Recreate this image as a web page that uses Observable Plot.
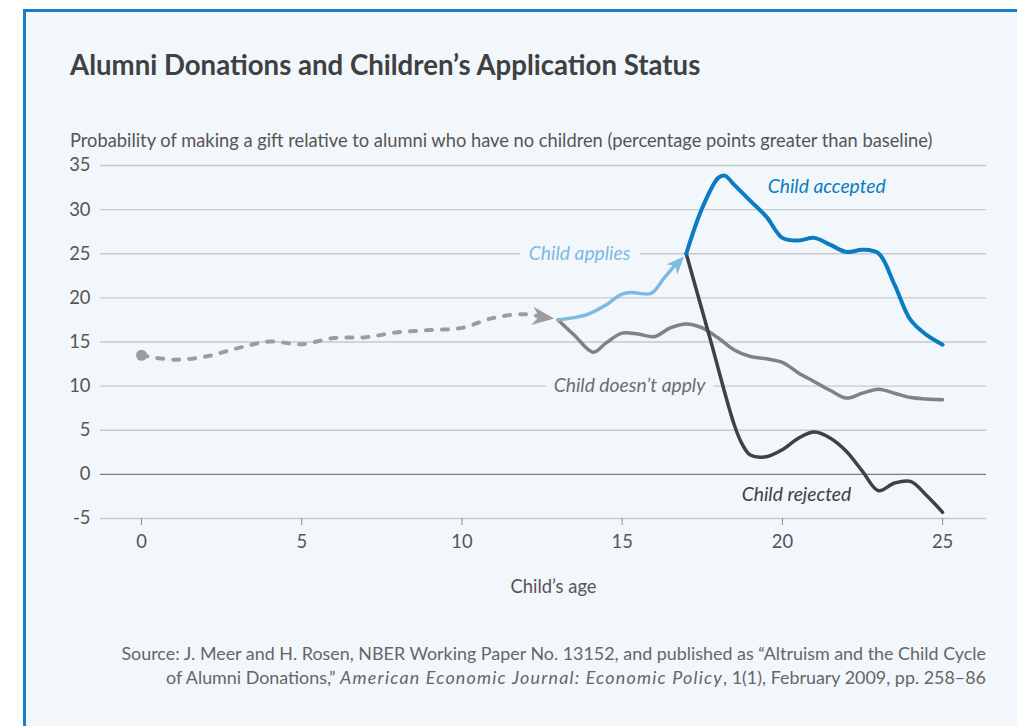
<!DOCTYPE html>
<html>
<head>
<meta charset="utf-8">
<script src="https://cdn.jsdelivr.net/npm/d3@7"></script>
<script src="https://cdn.jsdelivr.net/npm/@observablehq/plot@0.6"></script>
<style>
  html, body { margin: 0; padding: 0; background: #ffffff; width: 1017px; height: 726px; overflow: hidden; font-family: Lato, sans-serif; }
  #card { position: absolute; left: 23px; top: 9px; width: 1100px; height: 800px; background: #f2f7fc; border-left: 3px solid #1b7dc6; border-top: 3px solid #1b7dc6; }
  #title { position: absolute; left: 70px; top: 48px; font-size: 27.6px; line-height: 34px; font-weight: 700; color: #404041; white-space: nowrap; }
  #ylabel { position: absolute; left: 70px; top: 128px; font-size: 18.3px; line-height: 24px; color: #555; white-space: nowrap; }
  #chart { position: absolute; left: 0; top: 150px; }
  #source { position: absolute; right: 31px; top: 641px; font-size: 17.9px; line-height: 24px; color: #666; text-align: right; white-space: nowrap; }
  #source i { letter-spacing: 1.2px; }
</style>
</head>
<body>
<div id="card"></div>
<div id="title">Alumni Donations and Children’s Application Status</div>
<div id="ylabel">Probability of making a gift relative to alumni who have no children (percentage points greater than baseline)</div>
<div id="chart"></div>
<div id="source">Source: J. Meer and H. Rosen, NBER Working Paper No. 13152, and published as “Altruism and the Child Cycle<br>of Alumni Donations,” <i>American Economic Journal: Economic Policy</i>, 1(1), February 2009, pp. 258–86</div>
<script>
// ---- data ----
const xTicks = [0, 5, 10, 15, 20, 25];
const yTicks = [-5, 0, 5, 10, 15, 20, 25, 30, 35];

// before application (dashed)
const baseAge = [0, 1, 2, 3, 4, 5, 6, 7, 8, 9, 10, 11, 12, 12.45];
const baseVal = [13.5, 13.0, 13.35, 14.3, 15.05, 14.75, 15.45, 15.55, 16.1, 16.35, 16.6, 17.75, 18.15, 17.85];
const baseTip = {age: 12.88, val: 17.65};

// child applies
const applyAge = [13, 13.9, 14.5, 14.95, 15.3, 15.9, 16.3, 16.65];
const applyVal = [17.5, 18.1, 19.2, 20.35, 20.6, 20.5, 22.2, 23.7];
const applyTip = {age: 16.93, val: 24.7};

// child accepted
const acceptAge = [17, 17.5, 18, 18.2, 18.5, 19, 19.5, 20, 20.5, 21, 21.5, 22, 22.5, 23, 23.5, 24, 24.5, 25];
const acceptVal = [25, 30.2, 33.6, 33.85, 32.8, 31.0, 29.2, 26.8, 26.5, 26.8, 26.0, 25.2, 25.45, 25.05, 21.5, 17.5, 15.8, 14.7];

// child doesn't apply
const noApplyAge = [13, 13.5, 14.1, 14.5, 15, 15.5, 16, 16.5, 17, 17.5, 18, 18.5, 19, 19.5, 20, 20.5, 21, 21.5, 22, 22.5, 23, 23.5, 24, 24.5, 25];
const noApplyVal = [17.5, 15.8, 13.85, 14.9, 16.0, 15.9, 15.6, 16.6, 17.05, 16.6, 15.45, 14.1, 13.35, 13.1, 12.7, 11.5, 10.5, 9.5, 8.65, 9.2, 9.66, 9.2, 8.7, 8.55, 8.46];

// child rejected
const rejectAge = [17, 17.75, 18.5, 18.75, 19, 19.5, 20, 20.5, 21, 21.5, 22, 22.5, 23, 23.5, 24, 24.5, 25];
const rejectVal = [25, 15.3, 5.6, 3.4, 2.2, 2.0, 2.8, 4.1, 4.8, 4.1, 2.6, 0.34, -1.85, -0.98, -0.8, -2.4, -4.3];

// series labels
const labelText = ["Child accepted", "Child applies", "Child doesn’t apply", "Child rejected"];
const labelAge = [19.54, 15.26, 15.23, 20.44];
const labelVal = [32.6, 25, 10, -2.26];

// ---- build ----
const zip = (a, v) => a.map((x, i) => ({age: x, val: v[i]}));
const base = zip(baseAge, baseVal);
const apply = zip(applyAge, applyVal);
const accept = zip(acceptAge, acceptVal);
const noApply = zip(noApplyAge, noApplyVal);
const reject = zip(rejectAge, rejectVal);
const labels = labelText.map((t, i) => ({text: t, age: labelAge[i], val: labelVal[i]}));

const bg = "#f2f7fc";
const cAccept = "#0b7cc1", cApply = "#7db9e1", cNo = "#808285", cRej = "#414042", cBase = "#9d9d9f";
const fs = 18.4, lfs = 19.3;

// arrowhead symbol, tip at origin, pointing up
const stealth = {
  draw(ctx, size) {
    const r = Math.sqrt(size / Math.PI);
    ctx.moveTo(0, 0);
    ctx.lineTo(-0.42 * r, r);
    ctx.lineTo(0, 0.7 * r);
    ctx.lineTo(0.42 * r, r);
    ctx.closePath();
  }
};

const chart = Plot.plot({
  width: 1017,
  height: 450,
  marginTop: 15,
  marginBottom: 82,
  marginLeft: 100,
  marginRight: 31,
  style: {background: "transparent", fontFamily: "Lato, sans-serif", fontSize: fs + "px", color: "#555"},
  x: {domain: [-1.28, 26.37]},
  y: {domain: [-5, 35]},
  marks: [
    Plot.ruleY(yTicks.filter(d => d !== 0), {stroke: "#c8c9cb", strokeWidth: 1.3}),
    Plot.ruleY([0], {stroke: "#7c7d80", strokeWidth: 1.3}),
    Plot.axisY({ticks: yTicks, tickSize: 0, tickPadding: 10, label: null, tickFormat: d => String(d), fill: "#555", fontSize: fs}),
    Plot.axisX({ticks: xTicks, tickSize: 7, tickPadding: 9, label: null, stroke: "#8a8a8a", fill: "#555", fontSize: fs}),
    Plot.text(["Child’s age"], {frameAnchor: "bottom", dx: 10, dy: 74, fill: "#555", fontSize: fs}),
    // labels with halo masking gridlines
    Plot.text(labels.filter(d => d.text === "Child applies"), {x: "age", y: "val", text: "text", textAnchor: "end", fill: cApply, stroke: bg, strokeWidth: 20, fontStyle: "italic", fontSize: lfs}),
    Plot.text(labels.filter(d => d.text === "Child doesn’t apply"), {x: "age", y: "val", text: "text", textAnchor: "middle", fill: "#6d6e71", stroke: bg, strokeWidth: 17, fontStyle: "italic", fontSize: lfs}),
    Plot.text(labels.filter(d => d.text === "Child accepted"), {x: "age", y: "val", text: "text", textAnchor: "start", fill: cAccept, fontStyle: "italic", fontSize: lfs}),
    Plot.text(labels.filter(d => d.text === "Child rejected"), {x: "age", y: "val", text: "text", textAnchor: "middle", fill: cRej, fontStyle: "italic", fontSize: lfs}),
    // lines
    Plot.line(base, {x: "age", y: "val", stroke: cBase, strokeWidth: 4, strokeDasharray: "6,10", strokeLinecap: "round", curve: "catmull-rom"}),
    Plot.dot([base[0]], {x: "age", y: "val", r: 5.5, fill: cBase}),
    Plot.dot([baseTip], {x: "age", y: "val", symbol: stealth, r: 22, fill: cBase, rotate: 97}),
    Plot.line(noApply, {x: "age", y: "val", stroke: cNo, strokeWidth: 3.5, curve: "catmull-rom"}),
    Plot.line(apply, {x: "age", y: "val", stroke: cApply, strokeWidth: 3.5, curve: "catmull-rom"}),
    Plot.dot([applyTip], {x: "age", y: "val", symbol: stealth, r: 18, fill: cApply, rotate: 43}),
    Plot.line(reject, {x: "age", y: "val", stroke: cRej, strokeWidth: 3.5, curve: "catmull-rom"}),
    Plot.line(accept, {x: "age", y: "val", stroke: cAccept, strokeWidth: 4, curve: "catmull-rom"})
  ]
});
document.getElementById("chart").appendChild(chart);
</script>
</body>
</html>
